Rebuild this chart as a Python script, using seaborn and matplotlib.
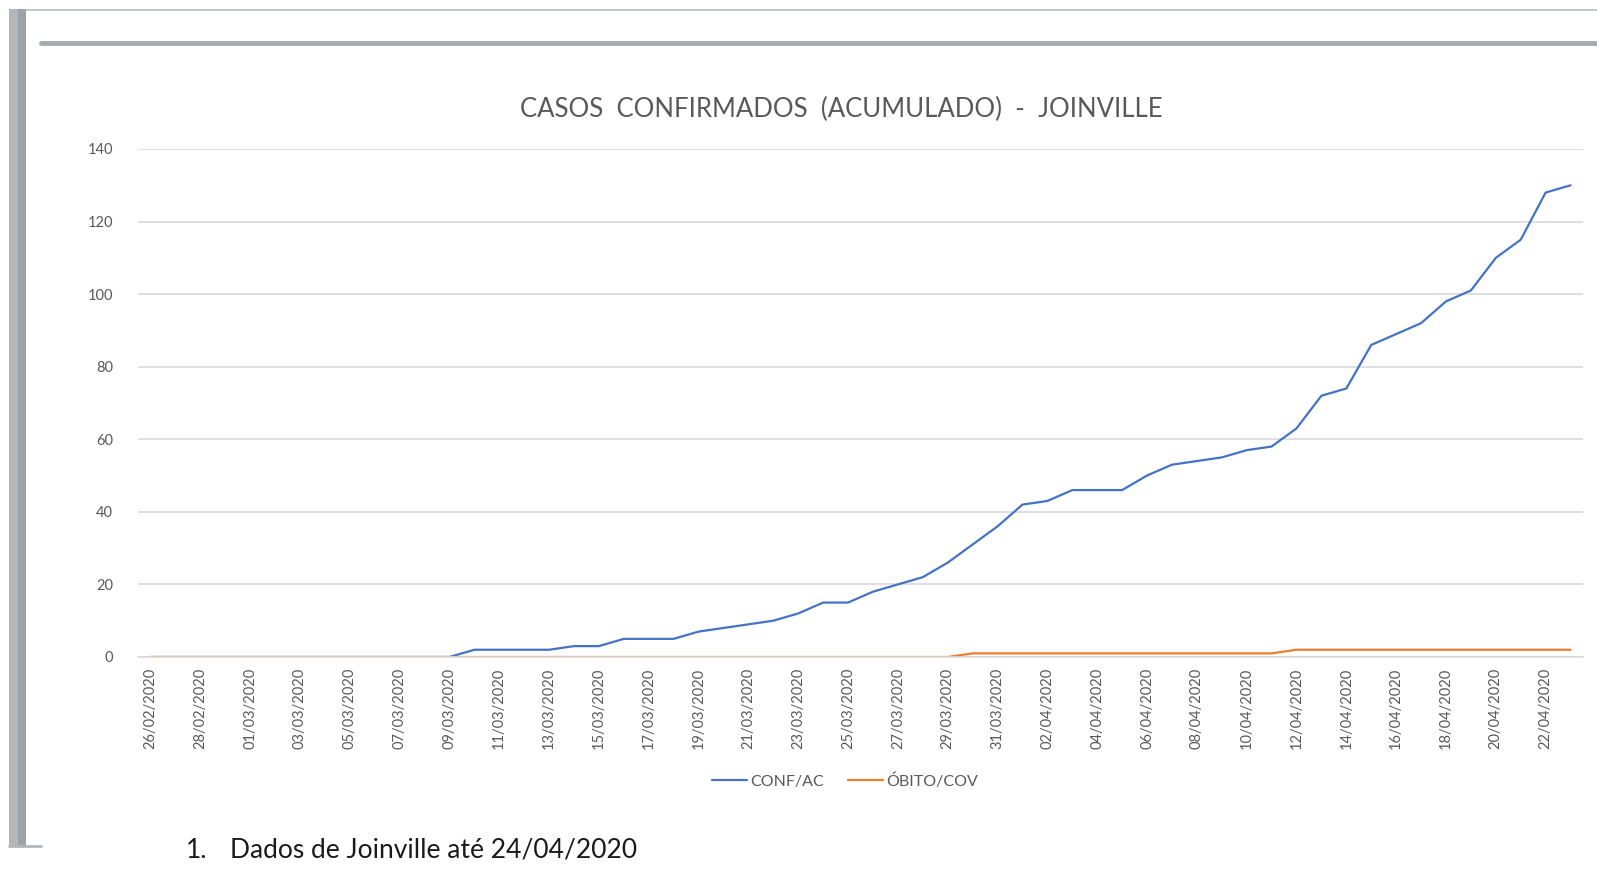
import matplotlib.pyplot as plt
import seaborn as sns
import pandas as pd
import numpy as np
from matplotlib.patches import Rectangle
from matplotlib.lines import Line2D

# ---------------------------------------------------------
# Dados
# ---------------------------------------------------------
datas = pd.date_range("2020-02-26", "2020-04-23", freq="D").strftime("%d/%m/%Y").tolist()

conf_ac = [0, 0, 0, 0, 0, 0, 0, 0, 0, 0, 0, 0, 0,
           2, 2, 2, 2, 3, 3, 5, 5, 5, 7, 8, 9, 10, 12, 15, 15, 18, 20, 22,
           26, 31, 36, 42, 43, 46, 46, 46, 50, 53, 54, 55, 57, 58,
           63, 72, 74, 86, 89, 92, 98, 101, 110, 115, 128, 130]

obito_cov = [0] * 33 + [1] * 13 + [2] * 12

series = ["CONF/AC", "ÓBITO/COV"]
cores = ["#4472C4", "#ED7D31"]

df = pd.DataFrame({
    "idx": list(range(len(datas))) * 2,
    "valor": conf_ac + obito_cov,
    "serie": [series[0]] * len(datas) + [series[1]] * len(datas),
})

# ---------------------------------------------------------
# Figura
# ---------------------------------------------------------
sns.set_style("white")
plt.rcParams["font.family"] = ["Lato", "DejaVu Sans"]

W, H = 1597, 877
fig = plt.figure(figsize=(W / 100, H / 100), dpi=100)

def px(x, y):
    return x / W, 1 - y / H

# moldura do documento (captura de tela)
fig.add_artist(Rectangle(px(9, 846), 17 / W, 837 / H, transform=fig.transFigure,
                         facecolor="#b3b7bc", edgecolor="none"))
fig.add_artist(Rectangle(px(18, 846), 8 / W, 837 / H, transform=fig.transFigure,
                         facecolor="#9ea3a9", edgecolor="none"))
fig.add_artist(Line2D([26 / W, 1], [1 - 10 / H] * 2, transform=fig.transFigure,
                      color="#b8bcc1", lw=1.2))
fig.add_artist(Line2D([41 / W, 1], [1 - 43 / H] * 2, transform=fig.transFigure,
                      color="#a7abb0", lw=3.5))
fig.add_artist(Line2D([9 / W, 41 / W], [1 - 846 / H] * 2, transform=fig.transFigure,
                      color="#b3b7bc", lw=2))

ax_l, ax_b = px(138, 657)
ax_r, ax_t = px(1583, 149)
ax = fig.add_axes([ax_l, ax_b, ax_r - ax_l, ax_t - ax_b])

sns.lineplot(data=df, x="idx", y="valor", hue="serie", palette=cores,
             linewidth=1.6, ax=ax, legend=False)

ax.set_xlim(-0.5, len(datas) - 0.5)
ax.set_ylim(0, 140)
ax.set_yticks(range(0, 141, 20))
ax.yaxis.grid(True, color="#d9d9d9", linewidth=1.2)
ax.set_axisbelow(True)
for s in ["top", "right", "left"]:
    ax.spines[s].set_visible(False)
ax.spines["bottom"].set_color("#d9d9d9")
ax.spines["bottom"].set_linewidth(1.2)

ax.set_xticks(range(0, len(datas), 2))
ax.set_xticklabels(datas[::2], rotation=90, fontsize=10.5, color="#595959")
ax.set_xticks(np.arange(-0.5, len(datas), 2), minor=True)
ax.tick_params(axis="x", which="major", length=0, pad=8)
ax.tick_params(axis="x", which="minor", length=6, color="#d9d9d9", width=1.2)
ax.tick_params(axis="y", length=0, labelsize=10.5, labelcolor="#595959", pad=18)
ax.set_xlabel("")
ax.set_ylabel("")

fig.text(*px(841, 109), "CASOS  CONFIRMADOS  (ACUMULADO)  -  JOINVILLE",
         ha="center", va="center", fontsize=18.5, color="#595959")

handles = [Line2D([], [], color=c, lw=1.6) for c in cores]
fig.legend(handles, series, loc="center", bbox_to_anchor=px(845, 781), ncol=2,
           frameon=False, fontsize=11.5, labelcolor="#595959", handlelength=2.2,
           handletextpad=0.2, columnspacing=1.5)

fig.text(*px(186, 850), "1.", ha="left", va="center", fontsize=19, color="#1a1a1a")
fig.text(*px(230, 850), "Dados de Joinville até 24/04/2020", ha="left", va="center",
         fontsize=19, color="#1a1a1a")

plt.savefig("out.png", dpi=100)
plt.close()
